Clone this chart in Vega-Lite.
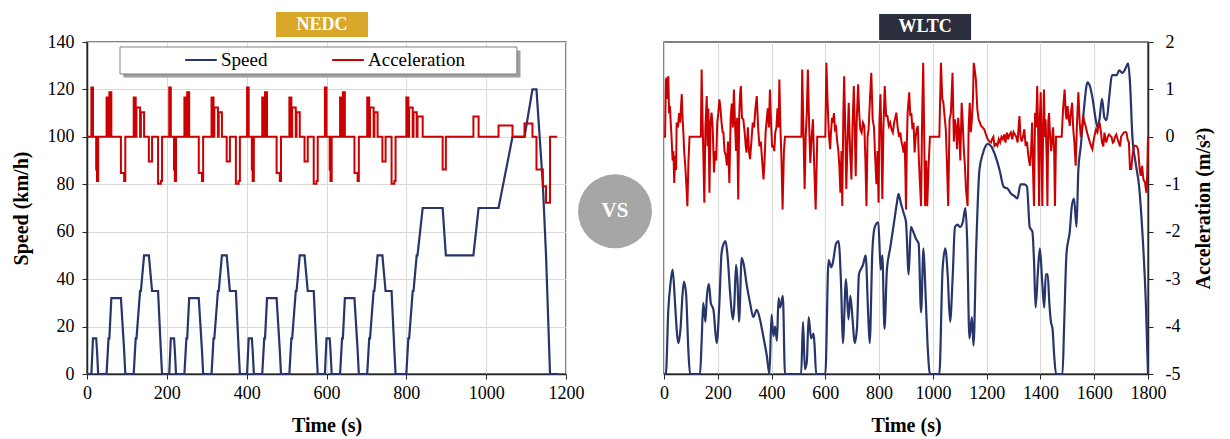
{
  "$schema": "https://vega.github.io/schema/vega-lite/v6.json",
  "background": "white",
  "padding": {"left": 10, "top": 11, "right": 5, "bottom": 2},
  "spacing": 0,
  "bounds": "flush",
  "config": {
    "font": "Liberation Serif",
    "view": {"stroke": "#595959", "strokeWidth": 1.5},
    "axis": {
      "labelFont": "Liberation Serif", "labelFontSize": 18, "labelColor": "#000",
      "titleFont": "Liberation Serif", "titleFontSize": 20, "titleFontWeight": "bold", "titleColor": "#000",
      "gridColor": "#d9d9d9", "gridWidth": 1,
      "domainColor": "#262626", "domainWidth": 1.5,
      "tickColor": "#262626", "tickSize": 5,
      "labelOverlap": false, "labelFlush": false, "format": "d"
    },
    "legend": {
      "orient": "none", "legendX": 97, "legendY": 1, "direction": "horizontal",
      "symbolType": "stroke", "symbolSize": 1000, "symbolStrokeWidth": 2,
      "labelFont": "Liberation Serif", "labelFontSize": 19, "labelColor": "#000",
      "labelOffset": 3, "columnPadding": 60, "padding": 0, "title": null
    }
  },
  "datasets": {
    "nedc_speed": [
      {"t":0,"v":0},{"t":11,"v":0},{"t":15,"v":15},{"t":23,"v":15},{"t":25,"v":10},{"t":28,"v":0},{"t":49,"v":0},{"t":54,"v":15},{"t":56,"v":15},{"t":61,"v":32},{"t":85,"v":32},{"t":93,"v":10},{"t":96,"v":0},{"t":117,"v":0},{"t":122,"v":15},{"t":124,"v":15},{"t":133,"v":35},{"t":135,"v":35},{"t":143,"v":50},{"t":155,"v":50},{"t":163,"v":35},{"t":178,"v":35},{"t":185,"v":10},{"t":188,"v":0},
      {"t":206,"v":0},{"t":210,"v":15},{"t":218,"v":15},{"t":220,"v":10},{"t":223,"v":0},{"t":244,"v":0},{"t":249,"v":15},{"t":251,"v":15},{"t":256,"v":32},{"t":280,"v":32},{"t":288,"v":10},{"t":291,"v":0},{"t":312,"v":0},{"t":317,"v":15},{"t":319,"v":15},{"t":328,"v":35},{"t":330,"v":35},{"t":338,"v":50},{"t":350,"v":50},{"t":358,"v":35},{"t":373,"v":35},{"t":380,"v":10},{"t":383,"v":0},
      {"t":401,"v":0},{"t":405,"v":15},{"t":413,"v":15},{"t":415,"v":10},{"t":418,"v":0},{"t":439,"v":0},{"t":444,"v":15},{"t":446,"v":15},{"t":451,"v":32},{"t":475,"v":32},{"t":483,"v":10},{"t":486,"v":0},{"t":507,"v":0},{"t":512,"v":15},{"t":514,"v":15},{"t":523,"v":35},{"t":525,"v":35},{"t":533,"v":50},{"t":545,"v":50},{"t":553,"v":35},{"t":568,"v":35},{"t":575,"v":10},{"t":578,"v":0},
      {"t":596,"v":0},{"t":600,"v":15},{"t":608,"v":15},{"t":610,"v":10},{"t":613,"v":0},{"t":634,"v":0},{"t":639,"v":15},{"t":641,"v":15},{"t":646,"v":32},{"t":670,"v":32},{"t":678,"v":10},{"t":681,"v":0},{"t":702,"v":0},{"t":707,"v":15},{"t":709,"v":15},{"t":718,"v":35},{"t":720,"v":35},{"t":728,"v":50},{"t":740,"v":50},{"t":748,"v":35},{"t":763,"v":35},{"t":770,"v":10},{"t":773,"v":0},
      {"t":800,"v":0},{"t":805,"v":15},{"t":807,"v":15},{"t":816,"v":35},{"t":818,"v":35},{"t":826,"v":50},{"t":828,"v":50},{"t":841,"v":70},{"t":891,"v":70},{"t":899,"v":50},{"t":968,"v":50},{"t":981,"v":70},{"t":1031,"v":70},{"t":1066,"v":100},{"t":1096,"v":100},{"t":1116,"v":120},{"t":1126,"v":120},{"t":1142,"v":80},{"t":1150,"v":50},{"t":1160,"v":0},{"t":1180,"v":0}
    ],
    "nedc_acc": [
      {"t":0,"a":0},{"t":11,"a":1.04},{"t":15,"a":0},{"t":23,"a":-0.69},{"t":25,"a":-0.93},{"t":28,"a":0},{"t":49,"a":0.83},{"t":54,"a":0},{"t":56,"a":0.94},{"t":61,"a":0},{"t":85,"a":-0.76},{"t":93,"a":-0.93},{"t":96,"a":0},{"t":117,"a":0.83},{"t":122,"a":0},{"t":124,"a":0.62},{"t":133,"a":0},{"t":135,"a":0.52},{"t":143,"a":0},{"t":155,"a":-0.52},{"t":163,"a":0},{"t":178,"a":-0.99},{"t":185,"a":-0.93},{"t":188,"a":0},
      {"t":206,"a":1.04},{"t":210,"a":0},{"t":218,"a":-0.69},{"t":220,"a":-0.93},{"t":223,"a":0},{"t":244,"a":0.83},{"t":249,"a":0},{"t":251,"a":0.94},{"t":256,"a":0},{"t":280,"a":-0.76},{"t":288,"a":-0.93},{"t":291,"a":0},{"t":312,"a":0.83},{"t":317,"a":0},{"t":319,"a":0.62},{"t":328,"a":0},{"t":330,"a":0.52},{"t":338,"a":0},{"t":350,"a":-0.52},{"t":358,"a":0},{"t":373,"a":-0.99},{"t":380,"a":-0.93},{"t":383,"a":0},
      {"t":401,"a":1.04},{"t":405,"a":0},{"t":413,"a":-0.69},{"t":415,"a":-0.93},{"t":418,"a":0},{"t":439,"a":0.83},{"t":444,"a":0},{"t":446,"a":0.94},{"t":451,"a":0},{"t":475,"a":-0.76},{"t":483,"a":-0.93},{"t":486,"a":0},{"t":507,"a":0.83},{"t":512,"a":0},{"t":514,"a":0.62},{"t":523,"a":0},{"t":525,"a":0.52},{"t":533,"a":0},{"t":545,"a":-0.52},{"t":553,"a":0},{"t":568,"a":-0.99},{"t":575,"a":-0.93},{"t":578,"a":0},
      {"t":596,"a":1.04},{"t":600,"a":0},{"t":608,"a":-0.69},{"t":610,"a":-0.93},{"t":613,"a":0},{"t":634,"a":0.83},{"t":639,"a":0},{"t":641,"a":0.94},{"t":646,"a":0},{"t":670,"a":-0.76},{"t":678,"a":-0.93},{"t":681,"a":0},{"t":702,"a":0.83},{"t":707,"a":0},{"t":709,"a":0.62},{"t":718,"a":0},{"t":720,"a":0.52},{"t":728,"a":0},{"t":740,"a":-0.52},{"t":748,"a":0},{"t":763,"a":-0.99},{"t":770,"a":-0.93},{"t":773,"a":0},
      {"t":800,"a":0.83},{"t":805,"a":0},{"t":807,"a":0.62},{"t":816,"a":0},{"t":818,"a":0.52},{"t":826,"a":0},{"t":828,"a":0.43},{"t":841,"a":0},{"t":891,"a":-0.69},{"t":899,"a":0},{"t":968,"a":0.43},{"t":981,"a":0},{"t":1031,"a":0.24},{"t":1066,"a":0},{"t":1096,"a":0.28},{"t":1116,"a":0},{"t":1126,"a":-0.69},{"t":1142,"a":-1.04},{"t":1150,"a":-1.39},{"t":1160,"a":0},{"t":1178,"a":0}
    ],
    "wltc_speed": [
      {"t":0,"v":0},{"t":7,"v":0},{"t":16,"v":27},{"t":24,"v":38},{"t":32,"v":44},{"t":41,"v":30},{"t":47,"v":19},{"t":53,"v":13},{"t":62,"v":20},{"t":68,"v":32},{"t":74,"v":39},{"t":82,"v":34},{"t":91,"v":9},{"t":97,"v":0},{"t":134,"v":0},{"t":140,"v":14},{"t":146,"v":30},{"t":154,"v":22},{"t":159,"v":32},{"t":167,"v":38},{"t":174,"v":30},{"t":184,"v":27},{"t":196,"v":13},{"t":206,"v":30},{"t":214,"v":51},{"t":222,"v":55},{"t":229,"v":56},{"t":237,"v":49},{"t":246,"v":34},{"t":256,"v":23},{"t":261,"v":28},{"t":268,"v":46},{"t":273,"v":40},{"t":279,"v":22},{"t":289,"v":49},{"t":297,"v":46},{"t":307,"v":38},{"t":320,"v":30},{"t":332,"v":24},{"t":345,"v":27},{"t":357,"v":23},{"t":369,"v":16},{"t":382,"v":8},{"t":392,"v":0},{"t":400,"v":25},{"t":407,"v":16},{"t":413,"v":20},{"t":420,"v":14},{"t":426,"v":32},{"t":432,"v":28},{"t":442,"v":33},{"t":450,"v":0},
      {"t":510,"v":0},{"t":517,"v":22},{"t":524,"v":2},{"t":531,"v":5},{"t":538,"v":24},{"t":547,"v":15},{"t":556,"v":17},{"t":560,"v":12},{"t":566,"v":0},{"t":600,"v":0},{"t":612,"v":48},{"t":622,"v":45},{"t":628,"v":47},{"t":640,"v":55},{"t":649,"v":56},{"t":659,"v":36},{"t":665,"v":13},{"t":677,"v":40},{"t":686,"v":23},{"t":693,"v":33},{"t":702,"v":22},{"t":709,"v":13},{"t":718,"v":20},{"t":725,"v":42},{"t":740,"v":46},{"t":750,"v":50},{"t":759,"v":26},{"t":765,"v":13},{"t":775,"v":52},{"t":784,"v":62},{"t":797,"v":64},{"t":806,"v":44},{"t":812,"v":50},{"t":820,"v":19},{"t":829,"v":44},{"t":841,"v":53},{"t":853,"v":62},{"t":866,"v":72},{"t":872,"v":76},{"t":881,"v":72},{"t":891,"v":68},{"t":900,"v":64},{"t":910,"v":42},{"t":918,"v":62},{"t":927,"v":60},{"t":937,"v":57},{"t":947,"v":55},{"t":956,"v":26},{"t":965,"v":53},{"t":972,"v":36},{"t":980,"v":13},{"t":989,"v":0},
      {"t":1024,"v":0},{"t":1036,"v":44},{"t":1046,"v":53},{"t":1055,"v":42},{"t":1064,"v":22},{"t":1074,"v":42},{"t":1082,"v":62},{"t":1092,"v":63},{"t":1101,"v":62},{"t":1111,"v":64},{"t":1121,"v":70},{"t":1127,"v":58},{"t":1136,"v":15},{"t":1145,"v":24},{"t":1151,"v":12},{"t":1161,"v":53},{"t":1173,"v":86},{"t":1186,"v":93},{"t":1204,"v":97},{"t":1217,"v":96},{"t":1229,"v":93},{"t":1248,"v":86},{"t":1263,"v":79},{"t":1279,"v":78},{"t":1291,"v":76},{"t":1304,"v":75},{"t":1314,"v":74},{"t":1326,"v":80},{"t":1341,"v":80},{"t":1350,"v":79},{"t":1360,"v":62},{"t":1370,"v":60},{"t":1376,"v":48},{"t":1382,"v":28},{"t":1391,"v":44},{"t":1398,"v":53},{"t":1407,"v":38},{"t":1414,"v":28},{"t":1420,"v":42},{"t":1427,"v":42},{"t":1433,"v":30},{"t":1439,"v":22},{"t":1445,"v":19},{"t":1451,"v":8},{"t":1458,"v":0},
      {"t":1482,"v":0},{"t":1488,"v":20},{"t":1497,"v":51},{"t":1509,"v":60},{"t":1517,"v":71},{"t":1525,"v":74},{"t":1534,"v":62},{"t":1541,"v":86},{"t":1550,"v":96},{"t":1562,"v":112},{"t":1575,"v":123},{"t":1585,"v":121},{"t":1594,"v":116},{"t":1606,"v":107},{"t":1612,"v":104},{"t":1619,"v":107},{"t":1629,"v":116},{"t":1638,"v":108},{"t":1646,"v":107},{"t":1656,"v":117},{"t":1666,"v":126},{"t":1675,"v":126},{"t":1683,"v":126},{"t":1693,"v":128},{"t":1705,"v":127},{"t":1717,"v":129},{"t":1726,"v":131},{"t":1733,"v":123},{"t":1742,"v":100},{"t":1754,"v":89},{"t":1767,"v":79},{"t":1779,"v":60},{"t":1792,"v":30},{"t":1800,"v":0}
    ],
    "wltc_acc": [
      {"t":0,"a":0},{"t":4,"a":0},{"t":7,"a":1.2},{"t":10,"a":1.25},{"t":13,"a":0.8},{"t":16,"a":1.28},{"t":19,"a":0.5},{"t":22,"a":0.65},{"t":25,"a":0.3},{"t":28,"a":0},{"t":32,"a":-0.5},{"t":35,"a":-0.3},{"t":38,"a":-0.97},{"t":42,"a":-0.4},{"t":45,"a":-0.7},{"t":47,"a":0.3},{"t":52,"a":0.2},{"t":56,"a":0.5},{"t":60,"a":0.3},{"t":63,"a":0.6},{"t":66,"a":0.9},{"t":69,"a":0.4},{"t":72,"a":0.1},{"t":75,"a":-0.3},{"t":79,"a":-0.6},{"t":83,"a":-1.0},{"t":87,"a":-1.46},{"t":91,"a":-0.5},{"t":95,"a":0},
      {"t":137,"a":0},{"t":140,"a":1.42},{"t":143,"a":0.5},{"t":146,"a":-0.3},{"t":150,"a":-1.39},{"t":154,"a":0.2},{"t":159,"a":0.86},{"t":162,"a":-0.2},{"t":165,"a":0.6},{"t":169,"a":-1.18},{"t":173,"a":0.3},{"t":177,"a":0.51},{"t":181,"a":0.2},{"t":186,"a":-0.75},{"t":190,"a":-0.3},{"t":194,"a":-0.5},{"t":198,"a":0.3},{"t":202,"a":0.5},{"t":206,"a":0.79},{"t":210,"a":0.6},{"t":214,"a":0.3},{"t":218,"a":0.1},{"t":221,"a":0.09},{"t":225,"a":-0.3},{"t":230,"a":-0.4},{"t":234,"a":-0.6},{"t":238,"a":-0.1},{"t":243,"a":-0.97},{"t":248,"a":0.4},{"t":252,"a":0.7},{"t":256,"a":0.2},{"t":260,"a":1.0},{"t":264,"a":0.3},{"t":268,"a":-0.3},{"t":272,"a":0.4},{"t":276,"a":-1.32},{"t":280,"a":0.5},{"t":283,"a":0.9},{"t":286,"a":1.07},{"t":290,"a":0.4},{"t":295,"a":0.37},{"t":300,"a":0.1},{"t":304,"a":-0.2},{"t":307,"a":-0.33},{"t":312,"a":0.2},{"t":316,"a":-0.3},{"t":320,"a":-0.47},{"t":325,"a":-0.1},{"t":330,"a":0.3},{"t":335,"a":0.2},{"t":340,"a":0.6},{"t":345,"a":0.86},{"t":350,"a":0.2},{"t":355,"a":-0.2},{"t":360,"a":-0.1},{"t":365,"a":-0.5},{"t":370,"a":-0.9},{"t":374,"a":-0.5},{"t":378,"a":0.1},{"t":382,"a":0.37},{"t":386,"a":0.6},{"t":390,"a":0.2},{"t":394,"a":1.0},{"t":398,"a":0.3},{"t":402,"a":-0.2},{"t":407,"a":-0.19},{"t":410,"a":-0.3},{"t":414,"a":0.1},{"t":418,"a":0.2},{"t":422,"a":0.6},{"t":426,"a":0.2},{"t":429,"a":1.21},{"t":433,"a":0.2},{"t":437,"a":-0.5},{"t":441,"a":-1.53},{"t":446,"a":-0.3},{"t":450,"a":0},
      {"t":511,"a":0},{"t":514,"a":1.42},{"t":518,"a":0.3},{"t":523,"a":-1.1},{"t":527,"a":0},{"t":531,"a":0.5},{"t":535,"a":1.42},{"t":540,"a":0.2},{"t":544,"a":-0.55},{"t":549,"a":0},{"t":554,"a":0.37},{"t":558,"a":-0.5},{"t":564,"a":-1.53},{"t":570,"a":0},
      {"t":600,"a":0},{"t":604,"a":1.56},{"t":608,"a":0.8},{"t":612,"a":0.2},{"t":614,"a":0},{"t":618,"a":-0.26},{"t":621,"a":0.1},{"t":625,"a":0.4},{"t":628,"a":0.3},{"t":632,"a":0.5},{"t":636,"a":0.16},{"t":640,"a":0.2},{"t":644,"a":-0.1},{"t":648,"a":-0.26},{"t":652,"a":-0.6},{"t":656,"a":-1.18},{"t":660,"a":-0.3},{"t":663,"a":-1.46},{"t":667,"a":0.5},{"t":670,"a":1.28},{"t":674,"a":0.2},{"t":678,"a":-1.1},{"t":682,"a":-0.2},{"t":687,"a":0.72},{"t":692,"a":-0.3},{"t":697,"a":-0.9},{"t":701,"a":0.2},{"t":706,"a":1.07},{"t":709,"a":0.3},{"t":713,"a":-0.83},{"t":717,"a":0.4},{"t":722,"a":1.11},{"t":726,"a":0.5},{"t":730,"a":0.16},{"t":735,"a":0.09},{"t":740,"a":0.3},{"t":745,"a":0.23},{"t":749,"a":-0.5},{"t":753,"a":-1.46},{"t":757,"a":0},{"t":761,"a":0.16},{"t":766,"a":0.8},{"t":771,"a":1.35},{"t":776,"a":0.37},{"t":781,"a":0.2},{"t":785,"a":-0.4},{"t":790,"a":-1.0},{"t":794,"a":-0.3},{"t":798,"a":-1.39},{"t":801,"a":0.3},{"t":805,"a":0.9},{"t":808,"a":0.1},{"t":812,"a":-1.31},{"t":816,"a":0.2},{"t":821,"a":1.07},{"t":826,"a":0.44},{"t":831,"a":0.44},{"t":836,"a":0.23},{"t":841,"a":0.3},{"t":846,"a":0.16},{"t":851,"a":0.09},{"t":856,"a":0.3},{"t":860,"a":0.4},{"t":864,"a":0.51},{"t":869,"a":0.2},{"t":874,"a":0},{"t":879,"a":0.09},{"t":883,"a":-0.1},{"t":887,"a":-0.2},{"t":891,"a":-0.33},{"t":895,"a":-0.1},{"t":898,"a":-0.82},{"t":900,"a":-1.53},
      {"t":903,"a":-0.19},{"t":906,"a":0.5},{"t":912,"a":0.94},{"t":916,"a":0.44},{"t":920,"a":0.5},{"t":924,"a":0.16},{"t":928,"a":0.3},{"t":932,"a":-0.33},{"t":936,"a":0},{"t":940,"a":0.16},{"t":944,"a":0.23},{"t":948,"a":-0.5},{"t":952,"a":-1.0},{"t":956,"a":-1.46},{"t":960,"a":0.4},{"t":964,"a":1.56},{"t":967,"a":0.3},{"t":971,"a":-1.46},{"t":975,"a":-0.5},{"t":979,"a":-1.46},{"t":984,"a":-0.61},{"t":989,"a":0},
      {"t":1024,"a":0},{"t":1030,"a":1.56},{"t":1035,"a":0.8},{"t":1039,"a":0.72},{"t":1044,"a":0.4},{"t":1048,"a":0.16},{"t":1052,"a":-0.5},{"t":1057,"a":-1.46},{"t":1062,"a":0.37},{"t":1067,"a":0.5},{"t":1073,"a":1.35},{"t":1078,"a":-0.1},{"t":1082,"a":0.37},{"t":1086,"a":0.2},{"t":1090,"a":-0.26},{"t":1094,"a":0.4},{"t":1098,"a":0.1},{"t":1102,"a":-0.5},{"t":1107,"a":0.72},{"t":1111,"a":0.3},{"t":1115,"a":-0.26},{"t":1119,"a":-0.6},{"t":1123,"a":-1.1},{"t":1129,"a":-1.46},{"t":1133,"a":0.2},{"t":1137,"a":0.72},{"t":1141,"a":0.1},{"t":1145,"a":0.37},{"t":1149,"a":0.8},{"t":1152,"a":1.56},{"t":1156,"a":1.4},{"t":1160,"a":1.21},{"t":1165,"a":0.6},{"t":1170,"a":0.37},{"t":1175,"a":0.3},{"t":1179,"a":0.23},{"t":1185,"a":0.2},{"t":1191,"a":0.16},{"t":1197,"a":0.05},{"t":1204,"a":-0.05},{"t":1210,"a":-0.1},{"t":1216,"a":-0.12},{"t":1220,"a":-0.05},{"t":1225,"a":0},{"t":1229,"a":-0.19},{"t":1235,"a":-0.15},{"t":1240,"a":-0.19},{"t":1245,"a":-0.05},{"t":1250,"a":-0.12},{"t":1255,"a":0},{"t":1260,"a":-0.05},{"t":1265,"a":0.05},{"t":1270,"a":-0.12},{"t":1275,"a":0.09},{"t":1280,"a":-0.05},{"t":1285,"a":0.05},{"t":1290,"a":0.09},{"t":1295,"a":-0.05},{"t":1300,"a":0.1},{"t":1305,"a":0.05},{"t":1310,"a":0},{"t":1315,"a":-0.12},{"t":1320,"a":0.3},{"t":1322,"a":0.44},{"t":1326,"a":0},{"t":1330,"a":-0.1},{"t":1335,"a":0},{"t":1340,"a":0.16},{"t":1345,"a":-0.19},{"t":1350,"a":-0.1},{"t":1355,"a":-0.4},{"t":1361,"a":-0.61},
      {"t":1365,"a":-0.3},{"t":1369,"a":0.3},{"t":1372,"a":-0.61},{"t":1376,"a":-1.46},{"t":1380,"a":0.51},{"t":1384,"a":0.2},{"t":1388,"a":1.07},{"t":1391,"a":0.3},{"t":1395,"a":-1.46},{"t":1398,"a":0.4},{"t":1401,"a":0.94},{"t":1404,"a":-0.3},{"t":1407,"a":-1.46},{"t":1410,"a":0.2},{"t":1413,"a":1.0},{"t":1416,"a":0},{"t":1419,"a":0.37},{"t":1423,"a":-0.4},{"t":1426,"a":-1.46},{"t":1429,"a":0.3},{"t":1432,"a":0.5},{"t":1436,"a":0},{"t":1440,"a":-0.3},{"t":1444,"a":0},{"t":1447,"a":0.2},{"t":1451,"a":-0.3},{"t":1454,"a":-1.46},{"t":1458,"a":0},
      {"t":1479,"a":0},{"t":1484,"a":0.58},{"t":1490,"a":1.0},{"t":1494,"a":0.5},{"t":1497,"a":0.37},{"t":1501,"a":0.65},{"t":1505,"a":0.4},{"t":1509,"a":0.23},{"t":1513,"a":0.5},{"t":1518,"a":0.72},{"t":1522,"a":0.16},{"t":1526,"a":-0.1},{"t":1531,"a":-0.61},{"t":1536,"a":0.3},{"t":1541,"a":0.94},{"t":1546,"a":0.3},{"t":1550,"a":0},{"t":1555,"a":0.2},{"t":1559,"a":0.44},{"t":1564,"a":0.3},{"t":1568,"a":0.23},{"t":1573,"a":0.1},{"t":1578,"a":0},{"t":1583,"a":-0.1},{"t":1588,"a":-0.19},{"t":1593,"a":-0.26},{"t":1597,"a":-0.1},{"t":1602,"a":0.05},{"t":1607,"a":0.16},{"t":1612,"a":0.1},{"t":1616,"a":0.23},{"t":1620,"a":0.3},{"t":1625,"a":0.1},{"t":1629,"a":-0.12},{"t":1634,"a":-0.2},{"t":1638,"a":0.09},{"t":1642,"a":-0.05},{"t":1645,"a":-0.12},{"t":1650,"a":0},{"t":1655,"a":0.05},{"t":1660,"a":0.02},{"t":1664,"a":0},{"t":1669,"a":-0.12},{"t":1673,"a":-0.1},{"t":1677,"a":0},{"t":1682,"a":0.05},{"t":1687,"a":-0.05},{"t":1691,"a":-0.12},{"t":1696,"a":-0.2},{"t":1700,"a":0},{"t":1705,"a":0.05},{"t":1710,"a":0.09},{"t":1715,"a":0.1},{"t":1720,"a":0.09},{"t":1724,"a":-0.05},{"t":1729,"a":-0.12},{"t":1733,"a":-0.68},{"t":1738,"a":-0.68},{"t":1742,"a":-0.4},{"t":1748,"a":-0.19},{"t":1753,"a":-0.19},{"t":1758,"a":-0.2},{"t":1763,"a":-0.26},{"t":1769,"a":-0.68},{"t":1773,"a":-0.82},{"t":1778,"a":-0.61},{"t":1783,"a":-0.9},{"t":1789,"a":-0.97},{"t":1794,"a":-1.18},{"t":1797,"a":-0.8},{"t":1800,"a":0}
    ],
    "badge_nedc": [{"label": "NEDC"}],
    "badge_wltc": [{"label": "WLTC"}],
    "vs": [{"label": "VS"}]
  },
  "hconcat": [
    {
      "width": 479, "height": 332,
      "layer": [
        {
          "data": {"name": "nedc_speed"},
          "mark": {"type": "line", "strokeWidth": 2.2},
          "encoding": {
            "x": {"field": "t", "type": "quantitative", "scale": {"domain": [0, 1200], "nice": false},
                  "axis": {"values": [0,200,400,600,800,1000,1200], "title": "Time (s)", "labelPadding": 5, "titlePadding": 13}},
            "y": {"field": "v", "type": "quantitative", "scale": {"domain": [0, 140], "nice": false},
                  "axis": {"values": [0,20,40,60,80,100,120,140], "title": "Speed (km/h)", "labelPadding": 8, "titlePadding": 16}},
            "color": {"datum": "Speed", "type": "nominal",
                      "scale": {"domain": ["Speed", "Acceleration"], "range": ["#27356b", "#cc0000"]}}
          }
        },
        {
          "data": {"name": "nedc_acc"},
          "mark": {"type": "line", "interpolate": "step-after", "strokeWidth": 2},
          "encoding": {
            "x": {"field": "t", "type": "quantitative", "scale": {"domain": [0, 1200], "nice": false}},
            "y": {"field": "a", "type": "quantitative", "scale": {"domain": [-5, 2], "nice": false}, "axis": null},
            "color": {"datum": "Acceleration", "type": "nominal"}
          }
        },
        {
          "data": {"name": "badge_nedc"},
          "mark": {"type": "rect", "color": "#9e9e9e"},
          "encoding": {
            "x": {"datum": 91, "type": "quantitative", "scale": {"domain": [0, 1200], "nice": false}},
            "x2": {"datum": 1086},
            "y": {"datum": 136.4, "type": "quantitative", "scale": {"domain": [0, 140], "nice": false}, "axis": null},
            "y2": {"datum": 125.0}
          }
        },
        {
          "data": {"name": "badge_nedc"},
          "mark": {"type": "rect", "color": "white", "stroke": "#7f7f7f", "strokeWidth": 1},
          "encoding": {
            "x": {"datum": 82.7, "type": "quantitative", "scale": {"domain": [0, 1200], "nice": false}},
            "x2": {"datum": 1077},
            "y": {"datum": 137.9, "type": "quantitative", "scale": {"domain": [0, 140], "nice": false}, "axis": null},
            "y2": {"datum": 126.5}
          }
        },
        {
          "data": {"name": "badge_nedc"},
          "mark": {"type": "rect", "color": "#d9a82a"},
          "encoding": {
            "x": {"datum": 473.5, "type": "quantitative", "scale": {"domain": [0, 1200], "nice": false}},
            "x2": {"datum": 704},
            "y": {"datum": 152.7, "type": "quantitative", "scale": {"domain": [0, 140], "nice": false}, "axis": null},
            "y2": {"datum": 142.1}
          }
        },
        {
          "data": {"name": "badge_nedc"},
          "mark": {"type": "text", "color": "white", "fontSize": 18, "fontWeight": "bold", "font": "Liberation Serif", "align": "center", "baseline": "middle"},
          "encoding": {
            "x": {"datum": 589, "type": "quantitative", "scale": {"domain": [0, 1200], "nice": false}},
            "y": {"datum": 147.2, "type": "quantitative", "scale": {"domain": [0, 140], "nice": false}, "axis": null},
            "text": {"field": "label"}
          }
        }
      ],
      "resolve": {"scale": {"y": "independent"}}
    },
    {
      "width": 98, "height": 332,
      "view": {"stroke": null},
      "data": {"name": "vs"},
      "layer": [
        {
          "mark": {"type": "point", "filled": true, "color": "#a6a6a6", "opacity": 1, "size": 5476},
          "encoding": {
            "x": {"datum": 0.5, "type": "quantitative", "scale": {"domain": [0, 1]}, "axis": null},
            "y": {"datum": 0.49, "type": "quantitative", "scale": {"domain": [0, 1]}, "axis": null}
          }
        },
        {
          "mark": {"type": "text", "color": "white", "fontSize": 21, "fontWeight": "bold", "font": "Liberation Serif", "align": "center", "baseline": "middle"},
          "encoding": {
            "x": {"datum": 0.5, "type": "quantitative", "scale": {"domain": [0, 1]}, "axis": null},
            "y": {"datum": 0.49, "type": "quantitative", "scale": {"domain": [0, 1]}, "axis": null},
            "text": {"field": "label"}
          }
        }
      ]
    },
    {
      "width": 484, "height": 332,
      "layer": [
        {
          "data": {"name": "wltc_speed"},
          "mark": {"type": "line", "strokeWidth": 2.2, "color": "#27356b", "interpolate": "monotone"},
          "encoding": {
            "x": {"field": "t", "type": "quantitative", "scale": {"domain": [0, 1800], "nice": false},
                  "axis": {"values": [0,200,400,600,800,1000,1200,1400,1600,1800], "title": "Time (s)", "labelPadding": 5, "titlePadding": 13}},
            "y": {"field": "v", "type": "quantitative", "scale": {"domain": [0, 140], "nice": false}, "axis": null}
          }
        },
        {
          "data": {"name": "wltc_acc"},
          "mark": {"type": "line", "strokeWidth": 2, "color": "#cc0000"},
          "encoding": {
            "x": {"field": "t", "type": "quantitative", "scale": {"domain": [0, 1800], "nice": false}},
            "y": {"field": "a", "type": "quantitative", "scale": {"domain": [-5, 2], "nice": false},
                  "axis": {"orient": "right", "values": [-5,-4,-3,-2,-1,0,1,2], "title": "Acceleration (m/s²)",
                           "labelExpr": "'' + datum.value", "labelAlign": "left", "labelPadding": 12,
                           "titleAngle": 270, "titleBaseline": "top", "titlePadding": 14}}
          }
        },
        {
          "data": {"name": "badge_wltc"},
          "mark": {"type": "rect", "color": "#2b2f3d"},
          "encoding": {
            "x": {"datum": 800, "type": "quantitative", "scale": {"domain": [0, 1800], "nice": false}},
            "x2": {"datum": 1142},
            "y": {"datum": 2.59, "type": "quantitative", "scale": {"domain": [-5, 2], "nice": false}, "axis": null},
            "y2": {"datum": 2.04}
          }
        },
        {
          "data": {"name": "badge_wltc"},
          "mark": {"type": "text", "color": "white", "fontSize": 18, "fontWeight": "bold", "font": "Liberation Serif", "align": "center", "baseline": "middle"},
          "encoding": {
            "x": {"datum": 971, "type": "quantitative", "scale": {"domain": [0, 1800], "nice": false}},
            "y": {"datum": 2.31, "type": "quantitative", "scale": {"domain": [-5, 2], "nice": false}, "axis": null},
            "text": {"field": "label"}
          }
        }
      ],
      "resolve": {"scale": {"y": "independent"}}
    }
  ]
}
